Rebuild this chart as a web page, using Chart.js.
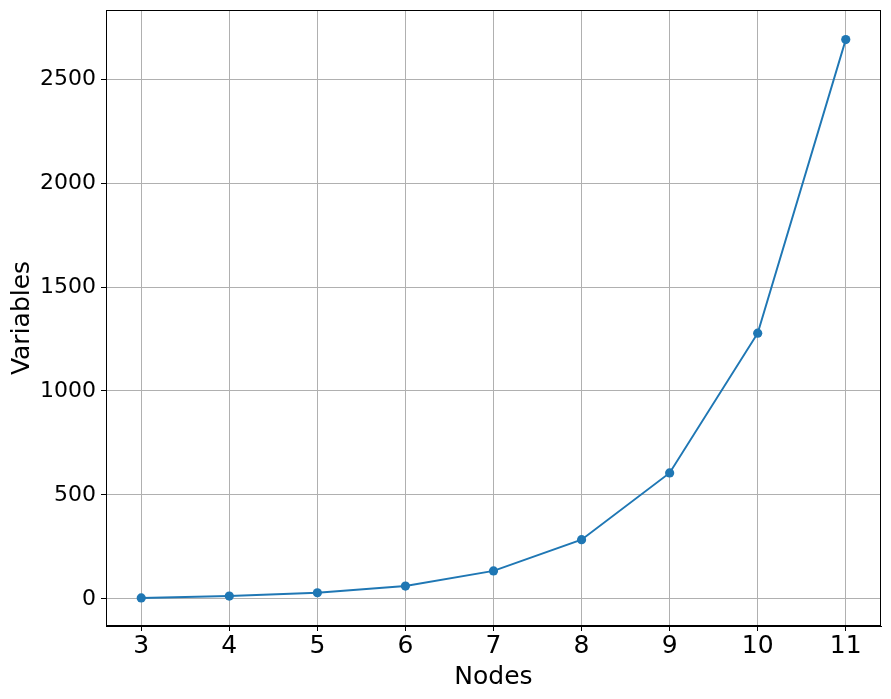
<!DOCTYPE html>
<html>
<head>
<meta charset="utf-8">
<script src="https://cdn.jsdelivr.net/npm/chart.js@4/dist/chart.umd.min.js"></script>
<style>
  html, body { margin: 0; padding: 0; background: #fff; }
  #wrap { width: 891px; height: 699px; position: relative; }
</style>
</head>
<body>
<div id="wrap"><canvas id="chart"></canvas></div>
<script>
const nodes = [3, 4, 5, 6, 7, 8, 9, 10, 11];
const variables = [5, 14, 30, 62, 135, 285, 606, 1278, 2690];
const xTicks = [3, 4, 5, 6, 7, 8, 9, 10, 11];
const yTicks = [0, 500, 1000, 1500, 2000, 2500];

const FONT = 'DejaVu Sans';
const GRID = '#b0b0b0';

// draw the top and right spines too
const frame = {
  id: 'frame',
  afterDatasetsDraw(chart) {
    const { ctx, chartArea: a } = chart;
    ctx.save();
    ctx.strokeStyle = '#000';
    ctx.lineWidth = 1;
    ctx.strokeRect(a.left + 0.5, a.top + 0.5, a.right - a.left - 1, a.bottom - a.top - 1);
    ctx.restore();
  }
};

new Chart(document.getElementById('chart').getContext('2d'), {
  type: 'line',
  data: {
    datasets: [{
      data: nodes.map((n, i) => ({ x: n, y: variables[i] })),
      borderColor: '#1f77b4',
      backgroundColor: '#1f77b4',
      borderWidth: 2,
      pointRadius: 4.6,
      pointHoverRadius: 4.6,
      pointBorderWidth: 0,
      tension: 0
    }]
  },
  options: {
    responsive: true,
    maintainAspectRatio: false,
    animation: false,
    layout: { padding: { left: 0, top: 10, right: 10, bottom: 0 } },
    plugins: { legend: { display: false }, tooltip: { enabled: false } },
    scales: {
      x: {
        type: 'linear',
        min: 2.6,
        max: 11.4,
        afterBuildTicks: s => { s.ticks = xTicks.map(v => ({ value: v })); },
        afterFit: s => { s.height = 73; s.paddingLeft = 0; s.paddingRight = 0; },
        grid: { color: GRID, lineWidth: 1, tickColor: '#000', tickLength: 5 },
        border: { color: '#000', width: 1 },
        ticks: { color: '#000', padding: 0, font: { family: FONT, size: 25 }, callback: v => String(v) },
        title: { display: true, text: 'Nodes', color: '#000', font: { family: FONT, size: 25 }, padding: { top: 0, bottom: 7 } }
      },
      y: {
        min: -130,
        max: 2832,
        afterBuildTicks: s => { s.ticks = yTicks.map(v => ({ value: v })); },
        afterFit: s => { s.width = 106; s.paddingTop = 0; s.paddingBottom = 0; },
        grid: { color: GRID, lineWidth: 1, tickColor: '#000', tickLength: 5 },
        border: { color: '#000', width: 1 },
        ticks: { color: '#000', padding: 5, font: { family: FONT, size: 22 }, callback: v => String(v) },
        title: { display: true, text: 'Variables', color: '#000', font: { family: FONT, size: 25 }, padding: { top: 7, bottom: 0 } }
      }
    }
  },
  plugins: [frame]
});
</script>
</body>
</html>
